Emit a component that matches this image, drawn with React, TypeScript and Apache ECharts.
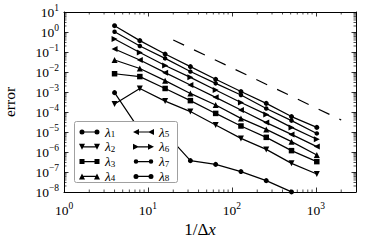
import React, { useEffect, useRef } from 'react';
import * as echarts from 'echarts';

// ---------- data ----------
const xValues = [4, 8, 16, 32, 64, 128, 256, 512, 1024];
const seriesNames = ['λ1', 'λ2', 'λ3', 'λ4', 'λ5', 'λ6', 'λ7', 'λ8'];
const lambda1 = [9.3e-4, 1.2e-5, 9e-6, 3.7e-7, 2.4e-7, 1.05e-7, 3.7e-8, 1.01e-8, 2.5e-9];
const lambda2 = [2.5e-4, 1.5e-3, 3.5e-4, 1.05e-4, 2.24e-5, 4.8e-6, 1.35e-6, 2.7e-7, 7.9e-8];
const lambda3 = [8.2e-3, 5.9e-3, 1.5e-3, 3.7e-4, 8.5e-5, 2.0e-5, 5.4e-6, 1.17e-6, 3.3e-7];
const lambda4 = [0.04, 0.015, 3.7e-3, 8.5e-4, 2.24e-4, 4.8e-5, 1.35e-5, 3.3e-6, 7.1e-7];
const lambda5 = [0.141, 0.04, 9.3e-3, 2.24e-3, 5.4e-4, 1.26e-4, 2.95e-5, 7.6e-6, 1.86e-6];
const lambda6 = [0.45, 0.095, 0.021, 5.4e-3, 1.26e-3, 3.0e-4, 7.6e-5, 1.7e-5, 4.3e-6];
const lambda7 = [1.03, 0.2, 0.048, 0.0105, 2.7e-3, 7.1e-4, 1.5e-4, 3.7e-5, 8.5e-6];
const lambda8 = [2.07, 0.37, 0.079, 0.0186, 4.3e-3, 1.05e-3, 2.7e-4, 5.9e-5, 1.7e-5];
const seriesValues = [lambda1, lambda2, lambda3, lambda4, lambda5, lambda6, lambda7, lambda8];
const refX = [20, 2000];
const refY = [0.4, 4e-5];

const X_MIN = 1;
const X_MAX = 3000;
const Y_MIN = 1e-8;
const Y_MAX = 10;

// minor tick values (2..9 per decade)
const xMinor: number[] = [];
for (let d = 1; d <= 1000; d *= 10) for (let m = 2; m <= 9; m++) if (m * d < X_MAX) xMinor.push(m * d);
const yMinor: number[] = [];
for (let k = -8; k <= 0; k++) for (let m = 2; m <= 9; m++) yMinor.push(m * Math.pow(10, k));

// ---------- styles ----------
const FONT = '"Liberation Serif", "DejaVu Serif", serif';
const markerStyles = [
  { symbol: 'circle', size: 5, rotate: 0 },
  { symbol: 'triangle', size: 6, rotate: 180 },
  { symbol: 'rect', size: 5.5, rotate: 0 },
  { symbol: 'triangle', size: 6, rotate: 0 },
  { symbol: 'triangle', size: 6, rotate: 90 },
  { symbol: 'triangle', size: 6, rotate: -90 },
  { symbol: 'circle', size: 4.5, rotate: 0 },
  { symbol: 'circle', size: 5, rotate: 0 },
];

// legend icon paths (box 42 x 12; line with a marker at each end)
const BOX = 'M0 0M42 12';
const LINE = 'M6 4.8L36 4.8L36 7.2L6 7.2Z';
const circ = (cx: number, r: number) =>
  `M${cx - r} 6A${r} ${r} 0 1 1 ${cx + r} 6A${r} ${r} 0 1 1 ${cx - r} 6Z`;
const triUp = (cx: number) => `M${cx} 0L${cx + 6} 12L${cx - 6} 12Z`;
const triDown = (cx: number) => `M${cx - 6} 0L${cx + 6} 0L${cx} 12Z`;
const triLeft = (cx: number) => `M${cx - 6} 6L${cx + 6} 0L${cx + 6} 12Z`;
const triRight = (cx: number) => `M${cx + 6} 6L${cx - 6} 12L${cx - 6} 0Z`;
const sq = (cx: number) => `M${cx - 5} 1L${cx + 5} 1L${cx + 5} 11L${cx - 5} 11Z`;
const both = (f: (cx: number) => string) => f(6) + f(36);
const iconPaths = [
  both((c) => circ(c, 5)),
  both(triDown),
  both(sq),
  both(triUp),
  both(triLeft),
  both(triRight),
  both((c) => circ(c, 4.5)),
  both((c) => circ(c, 5)),
].map((p) => 'path://' + BOX + LINE + p);

const pow10Label = (v: number) => {
  const e = Math.log10(v);
  const r = Math.round(e);
  if (Math.abs(e - r) > 1e-6) return '';
  return `{b|10}{e|${r < 0 ? '\u2212' + -r : r}}`;
};
const labelRich = {
  b: { fontFamily: FONT, fontSize: 13.5, lineHeight: 19, color: '#000' },
  e: { fontFamily: FONT, fontSize: 9.5, lineHeight: 9, verticalAlign: 'top', color: '#000' },
};
const tickStyle = { inside: true, length: 4.5, lineStyle: { color: '#000', width: 0.8 } };
const axisLine = { show: true, lineStyle: { color: '#000', width: 1 } };

const legendRich = {
  a: { fontFamily: FONT, fontStyle: 'italic', fontSize: 13.5, lineHeight: 13, color: '#000' },
  s: { fontFamily: FONT, fontSize: 9, lineHeight: 8, verticalAlign: 'bottom', color: '#000' },
};
const legendBase = {
  orient: 'vertical',
  itemWidth: 21,
  itemHeight: 6,
  itemGap: 0.8,
  padding: 0,
  selectedMode: false,
  itemStyle: { borderWidth: 0 },
  formatter: (n: string) => `{a|λ}{s|${n.slice(1)}}`,
  textStyle: { fontFamily: FONT, fontSize: 13.5, color: '#000', rich: legendRich },
};

function buildOption() {
  const lineSeries = seriesNames.map((name, i) => ({
    name,
    type: 'line',
    data: xValues.map((x, j) => [x, seriesValues[i][j]]),
    symbol: markerStyles[i].symbol,
    symbolSize: markerStyles[i].size,
    symbolRotate: markerStyles[i].rotate,
    showSymbol: true,
    lineStyle: { color: '#000', width: 1.2 },
    itemStyle: { color: '#000', borderWidth: 0 },
    emphasis: { disabled: true },
    silent: true,
    z: 2,
  }));

  const tickLine = (x1: number, y1: number, x2: number, y2: number) => ({
    type: 'line',
    shape: { x1, y1, x2, y2 },
    style: { stroke: '#000', lineWidth: 0.7 },
  });

  const axisLabelBase = {
    formatter: pow10Label,
    fontFamily: FONT,
    fontSize: 13.5,
    color: '#000',
    rich: labelRich,
  };

  return {
    animation: false,
    backgroundColor: '#fff',
    textStyle: { fontFamily: FONT },
    grid: { left: 64, right: 17, top: 12, bottom: 51, outerBoundsMode: 'none' },
    xAxis: [
      {
        type: 'log',
        logBase: 10,
        min: X_MIN,
        max: X_MAX,
        position: 'bottom',
        axisLine,
        axisTick: tickStyle,
        splitLine: { show: false },
        axisLabel: { ...axisLabelBase, margin: 9 },
      },
      {
        type: 'log',
        logBase: 10,
        min: X_MIN,
        max: X_MAX,
        position: 'top',
        axisLine,
        axisTick: tickStyle,
        splitLine: { show: false },
        axisLabel: { show: false },
      },
    ],
    yAxis: [
      {
        type: 'log',
        logBase: 10,
        min: Y_MIN,
        max: Y_MAX,
        position: 'left',
        axisLine,
        axisTick: tickStyle,
        splitLine: { show: false },
        axisLabel: { ...axisLabelBase, margin: 5 },
        name: 'error',
        nameLocation: 'middle',
        nameGap: 47,
        nameRotate: 90,
        nameTextStyle: { fontFamily: FONT, fontSize: 15.5, color: '#000' },
      },
      {
        type: 'log',
        logBase: 10,
        min: Y_MIN,
        max: Y_MAX,
        position: 'right',
        axisLine,
        axisTick: tickStyle,
        splitLine: { show: false },
        axisLabel: { show: false },
      },
    ],
    legend: [
      {
        ...legendBase,
        left: 79,
        top: 125,
        data: seriesNames.slice(0, 4).map((n, i) => ({ name: n, icon: iconPaths[i] })),
      },
      {
        ...legendBase,
        left: 133,
        top: 125,
        data: seriesNames.slice(4).map((n, i) => ({ name: n, icon: iconPaths[i + 4] })),
      },
    ],
    graphic: {
      elements: [
        {
          type: 'rect',
          z: 3,
          shape: { x: 74.5, y: 121.5, width: 103, height: 61, r: 2 },
          style: { fill: '#fff', stroke: '#a0a0a0', lineWidth: 1 },
        },
        {
          type: 'text',
          x: 200,
          y: 229,
          style: {
            text: '{n|1/Δ}{i|x}',
            textAlign: 'center',
            textVerticalAlign: 'middle',
            rich: {
              n: { fontFamily: FONT, fontSize: 17, fill: '#000', color: '#000' },
              i: { fontFamily: FONT, fontSize: 17, fontStyle: 'italic', fill: '#000', color: '#000' },
            },
          },
        },
      ],
    },
    series: [
      ...lineSeries,
      {
        name: 'ref',
        type: 'line',
        data: refX.map((x, i) => [x, refY[i]]),
        symbol: 'none',
        lineStyle: { color: '#000', width: 1.2, type: [12, 11] },
        emphasis: { disabled: true },
        silent: true,
        z: 2,
      },
      {
        type: 'custom',
        coordinateSystem: 'cartesian2d',
        silent: true,
        clip: false,
        z: 3,
        data: xMinor.map((v) => [v, 1]),
        renderItem: (_p: any, api: any) => {
          const v = api.value(0);
          const b = api.coord([v, Y_MIN]);
          const t = api.coord([v, Y_MAX]);
          return {
            type: 'group',
            children: [tickLine(b[0], b[1], b[0], b[1] - 2.5), tickLine(t[0], t[1], t[0], t[1] + 2.5)],
          };
        },
      },
      {
        type: 'custom',
        coordinateSystem: 'cartesian2d',
        silent: true,
        clip: false,
        z: 3,
        data: yMinor.map((v) => [10, v]),
        renderItem: (_p: any, api: any) => {
          const v = api.value(1);
          const l = api.coord([X_MIN, v]);
          const r = api.coord([X_MAX, v]);
          return {
            type: 'group',
            children: [tickLine(l[0], l[1], l[0] + 2.5, l[1]), tickLine(r[0], r[1], r[0] - 2.5, r[1])],
          };
        },
      },
    ],
  };
}

export default function App() {
  const ref = useRef<HTMLDivElement>(null);
  useEffect(() => {
    document.body.style.margin = '0';
    const chart = echarts.init(ref.current!, null, { renderer: 'svg' });
    chart.setOption(buildOption() as any);
    return () => chart.dispose();
  }, []);
  return <div ref={ref} style={{ width: 373, height: 243 }} />;
}
